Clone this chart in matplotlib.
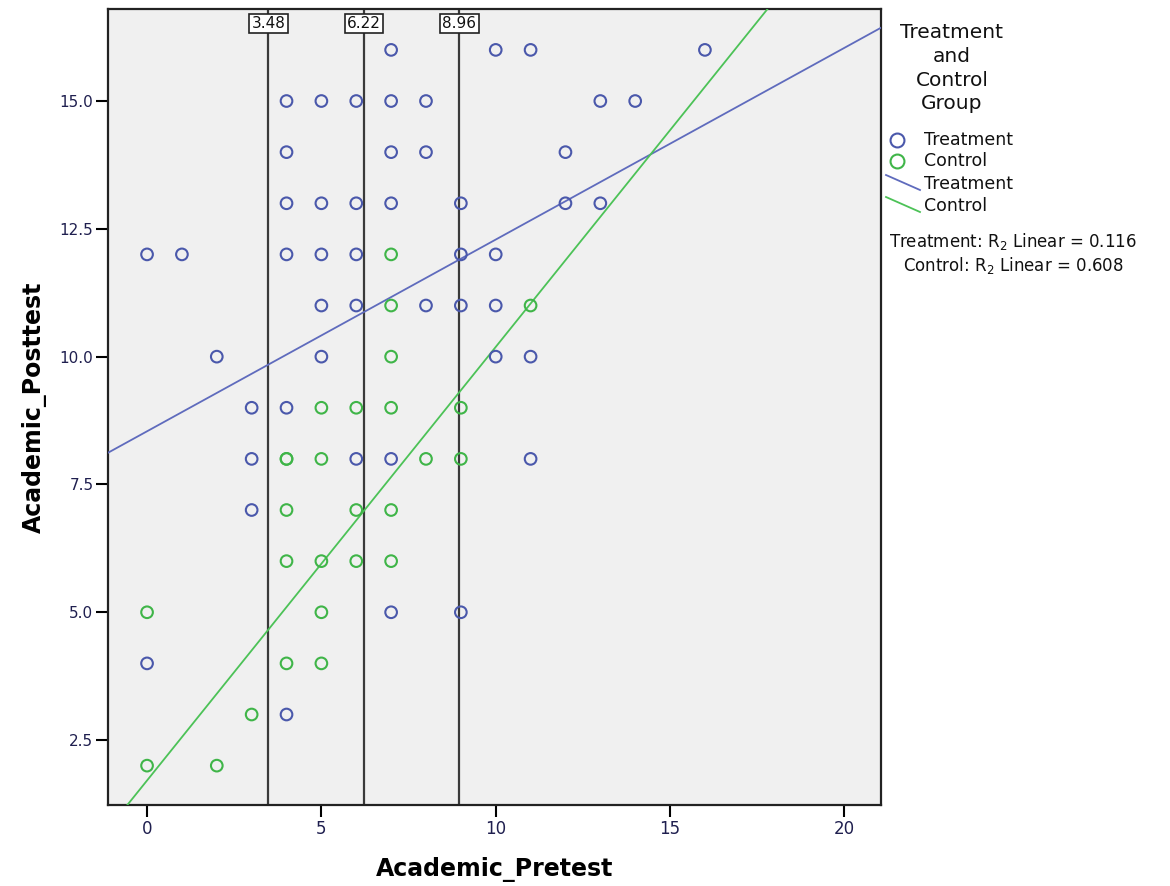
import matplotlib
matplotlib.use("Agg")
import matplotlib.pyplot as plt
import numpy as np
from matplotlib.lines import Line2D

# ---- data ----
treat_x = [0, 1, 0, 2, 3, 3, 3, 4, 4, 4, 4, 4, 4, 5, 5, 5, 5, 5,
           6, 6, 6, 6, 6, 7, 7, 7, 7, 7, 7, 8, 8, 8, 9, 9, 9, 9,
           10, 10, 10, 10, 11, 11, 11, 12, 12, 13, 13, 14, 16]
treat_y = [12, 12, 4, 10, 9, 8, 7, 15, 14, 13, 12, 9, 3, 15, 13, 12, 11, 10,
           15, 13, 12, 11, 8, 16, 15, 14, 13, 8, 5, 15, 14, 11, 13, 12, 11, 5,
           16, 12, 11, 10, 16, 10, 8, 14, 13, 15, 13, 15, 16]

ctrl_x = [7, 7, 11, 7, 4, 5, 6, 7, 9, 4, 5, 8, 9, 4, 6, 7,
          4, 5, 6, 7, 0, 5, 4, 5, 3, 0, 2]
ctrl_y = [12, 11, 11, 10, 8, 9, 9, 9, 9, 8, 8, 8, 8, 7, 7, 7,
          6, 6, 6, 6, 5, 5, 4, 4, 3, 2, 2]

# fit lines (intercept, slope)
treat_fit = (8.54, 0.375)
ctrl_fit = (1.71, 0.848)

ref_lines = [3.48, 6.22, 8.96]
ref_labels = ["3.48", "6.22", "8.96"]

x_ticks = [0, 5, 10, 15, 20]
y_ticks = [2.5, 5.0, 7.5, 10.0, 12.5, 15.0]

blue = "#4a58ab"
green = "#3fb548"
blue_line = "#5f6bbd"
green_line = "#4cc257"

W, H = 1170, 886
fig = plt.figure(figsize=(W / 100, H / 100), dpi=100)
L, R, T, B = 108, 881, 9, 805
ax = fig.add_axes([L / W, 1 - B / H, (R - L) / W, (B - T) / H])
ax.set_facecolor("#f0f0f0")

xlim = (-1.12, 21.05)
ylim = (1.23, 16.8)
ax.set_xlim(*xlim)
ax.set_ylim(*ylim)

# reference lines
for xv, lab in zip(ref_lines, ref_labels):
    ax.axvline(xv, color="#3a3a3a", lw=1.6, zorder=2)
    ax.text(xv, 0.982, lab, transform=ax.get_xaxis_transform(),
            ha="center", va="center", fontsize=11, color="#111111", zorder=6,
            bbox=dict(boxstyle="square,pad=0.15", fc="white", ec="#222222", lw=1.2))

# fit lines
xs = np.array(xlim)
ax.plot(xs, treat_fit[0] + treat_fit[1] * xs, color=blue_line, lw=1.3, zorder=3)
ax.plot(xs, ctrl_fit[0] + ctrl_fit[1] * xs, color=green_line, lw=1.3, zorder=3)

# scatter
ax.scatter(treat_x, treat_y, s=70, facecolors="none", edgecolors=blue,
           linewidths=1.5, zorder=4)
ax.scatter(ctrl_x, ctrl_y, s=70, facecolors="none", edgecolors=green,
           linewidths=1.5, zorder=5)

ax.set_xticks(x_ticks)
ax.set_xticklabels([str(v) for v in x_ticks])
ax.set_yticks(y_ticks)
ax.set_yticklabels([f"{v:.1f}" for v in y_ticks])
ax.tick_params(axis="both", direction="out", length=8.5, width=1.5,
               labelsize=11, labelcolor="#1f1f4f", pad=2)
ax.tick_params(axis="x", labelsize=12)
ax.tick_params(top=False, right=False)
for sp in ax.spines.values():
    sp.set_linewidth(1.6)
    sp.set_color("#222222")

ax.set_xlabel("Academic_Pretest", fontsize=17, fontweight="bold", labelpad=14)
ax.set_ylabel("Academic_Posttest", fontsize=17, fontweight="bold", labelpad=9)

# ---- legend drawn in figure pixels ----
def fx(px):
    return px / W

def fy(py):
    return 1 - py / H

title_lines = ["Treatment", "and", "Control", "Group"]
for i, t in enumerate(title_lines):
    fig.text(fx(952), fy(33 + i * 23.5), t, ha="center", va="center",
             fontsize=14.5, color="#111111")

fig.add_artist(Line2D([fx(897)], [fy(140)], marker="o", ms=10, mfc="none",
                      mec=blue, mew=1.5, transform=fig.transFigure))
fig.add_artist(Line2D([fx(897)], [fy(161)], marker="o", ms=10, mfc="none",
                      mec=green, mew=1.5, transform=fig.transFigure))
fig.text(fx(924), fy(140), "Treatment", ha="left", va="center", fontsize=12.5, color="#111111")
fig.text(fx(924), fy(161), "Control", ha="left", va="center", fontsize=12.5, color="#111111")
fig.add_artist(Line2D([fx(886), fx(920)], [fy(175), fy(190)], color=blue_line, lw=1.3,
                      transform=fig.transFigure))
fig.add_artist(Line2D([fx(886), fx(920)], [fy(197), fy(212)], color=green_line, lw=1.3,
                      transform=fig.transFigure))
fig.text(fx(924), fy(184), "Treatment", ha="left", va="center", fontsize=12.5, color="#111111")
fig.text(fx(924), fy(206), "Control", ha="left", va="center", fontsize=12.5, color="#111111")

fig.text(fx(1013), fy(241), "Treatment: R$_2$ Linear = 0.116", ha="center", va="center",
         fontsize=12, color="#111111")
fig.text(fx(1013), fy(265), "Control: R$_2$ Linear = 0.608", ha="center", va="center",
         fontsize=12, color="#111111")

fig.savefig("out.png", dpi=100, facecolor="white")
